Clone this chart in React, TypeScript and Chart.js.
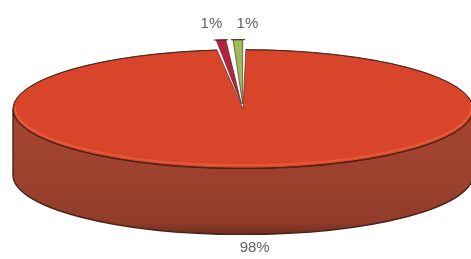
import { useEffect, useRef } from "react";
import { Chart, registerables } from "chart.js";

Chart.register(...registerables);

// ---- data ----
const categories = ["Slice A", "Slice B", "Slice C"];
const values = [1, 1, 98];
const valueLabels = ["1%", "1%", "98%"];
const topColors = ["#b3223f", "#9dbb58", "#d8452b"];
const sideColors = ["#7e1a2e", "#6e8a3a", "#9c412e"];
const explodeOffsets = [80, 80, 0];

// ---- 3D look ----
const TILT = 0.258;
const DEPTH = 66;
const FACE_X = 243;
const FACE_Y = 109;
const RADIUS = 230;
const ROTATION = -6.5; // degrees, start of first slice relative to 12 o'clock
const OUTLINE = "#4a2216";
const GAP_TOP = 16;
const GAP_BOTTOM = 14;
const MIN_SEP = 36;

function arcShift(el: any) {
  const off = (el.options.offset || 0) / 4;
  const circ = el.endAngle - el.startAngle;
  const fix = 1 - Math.sin(Math.min(Math.PI, circ || 0));
  const r = off + off * fix;
  const h = (el.startAngle + el.endAngle) / 2;
  return { dx: Math.cos(h) * r, dy: Math.sin(h) * r * TILT, h };
}

function shade(hex: string, f: number) {
  const n = parseInt(hex.slice(1), 16);
  const r = Math.min(255, Math.round(((n >> 16) & 255) * f));
  const g = Math.min(255, Math.round(((n >> 8) & 255) * f));
  const b = Math.min(255, Math.round((n & 255) * f));
  return `rgb(${r},${g},${b})`;
}

const pie3d = {
  id: "pie3d",
  beforeDatasetsDraw(chart: any) {
    const ctx = chart.ctx as CanvasRenderingContext2D;
    const els = chart.getDatasetMeta(0).data;
    if (!els.length) return;
    const cx = els[0].x;
    const cy = els[0].y;
    els.forEach((el: any, i: number) => {
      const { dx, dy } = arcShift(el);
      const a = el.outerRadius;
      const b = el.outerRadius * TILT;
      const ox = FACE_X + dx;
      const oy = FACE_Y + dy;
      for (let k = -1; k <= 1; k++) {
        const lo = Math.max(el.startAngle, 2 * Math.PI * k);
        const hi = Math.min(el.endAngle, 2 * Math.PI * k + Math.PI);
        if (hi <= lo) continue;
        ctx.save();
        ctx.beginPath();
        ctx.ellipse(ox, oy, a, b, 0, lo, hi);
        ctx.ellipse(ox, oy + DEPTH, a, b, 0, hi, lo, true);
        ctx.closePath();
        const g = ctx.createLinearGradient(0, oy, 0, oy + b + DEPTH);
        const base = sideColors[i];
        g.addColorStop(0, shade(base, 1.06));
        g.addColorStop(0.55, shade(base, 1.0));
        g.addColorStop(0.9, shade(base, 0.93));
        g.addColorStop(1, shade(base, 0.72));
        ctx.fillStyle = g;
        ctx.fill();
        ctx.lineWidth = 1.4;
        ctx.strokeStyle = OUTLINE;
        ctx.stroke();
        ctx.restore();
      }
    });
    ctx.save();
    ctx.translate(FACE_X, FACE_Y);
    ctx.scale(1, TILT);
    ctx.translate(-cx, -cy);
  },
  afterDatasetsDraw(chart: any) {
    const ctx = chart.ctx as CanvasRenderingContext2D;
    const els = chart.getDatasetMeta(0).data;
    if (!els.length) return;
    ctx.restore();
    // outer edges of the top faces, with a faint light rim on the front
    els.forEach((el: any) => {
      const { dx, dy } = arcShift(el);
      const a = el.outerRadius;
      const b = a * TILT;
      ctx.save();
      const lo = Math.max(el.startAngle, 0);
      const hi = Math.min(el.endAngle, Math.PI);
      if (hi > lo) {
        ctx.beginPath();
        ctx.ellipse(FACE_X + dx, FACE_Y + dy - 1.5, a - 2, b - 1.5, 0, lo, hi);
        ctx.lineWidth = 2;
        ctx.strokeStyle = "rgba(238,110,70,0.55)";
        ctx.stroke();
      }
      ctx.beginPath();
      ctx.ellipse(FACE_X + dx, FACE_Y + dy, a, b, 0, el.startAngle, el.endAngle);
      ctx.lineWidth = 1;
      ctx.strokeStyle = OUTLINE;
      ctx.stroke();
      ctx.restore();
    });
    // labels
    const pts = els.map((el: any, i: number) => {
      const { dx, dy, h } = arcShift(el);
      const a = el.outerRadius;
      const b = a * TILT;
      const ex = FACE_X + dx + a * Math.cos(h);
      const ey = FACE_Y + dy + b * Math.sin(h);
      const lower = Math.sin(h) > 0;
      return {
        x: ex,
        y: lower ? ey + DEPTH + GAP_BOTTOM : ey - GAP_TOP,
        lower,
        text: valueLabels[i],
      };
    });
    // spread labels sharing a row
    for (const row of [true, false]) {
      const grp = pts.filter((p: any) => p.lower === row).sort((p: any, q: any) => p.x - q.x);
      if (grp.length > 1) {
        let ok = true;
        for (let j = 1; j < grp.length; j++) if (grp[j].x - grp[j - 1].x < MIN_SEP) ok = false;
        if (!ok) {
          const mean = grp.reduce((s: number, p: any) => s + p.x, 0) / grp.length;
          grp.forEach((p: any, j: number) => {
            p.x = mean + (j - (grp.length - 1) / 2) * MIN_SEP;
          });
        }
      }
    }
    ctx.save();
    ctx.font = "15px 'Liberation Sans', Arial, sans-serif";
    ctx.fillStyle = "#5f5f5f";
    ctx.textAlign = "center";
    ctx.textBaseline = "middle";
    pts.forEach((p: any) => ctx.fillText(p.text, p.x, p.y));
    ctx.restore();
  },
};

export default function App() {
  const ref = useRef<HTMLCanvasElement | null>(null);
  useEffect(() => {
    if (!ref.current) return;
    const chart = new Chart(ref.current, {
      type: "pie",
      data: {
        labels: categories,
        datasets: [
          {
            data: values,
            backgroundColor: topColors,
            borderColor: OUTLINE,
            borderWidth: 1,
            offset: explodeOffsets,
            clip: false as any,
          } as any,
        ],
      },
      options: {
        responsive: false,
        animation: false,
        devicePixelRatio: 1,
        rotation: ROTATION,
        radius: RADIUS,
        events: [],
        layout: { padding: 0 },
        plugins: {
          legend: { display: false },
          tooltip: { enabled: false },
        },
      } as any,
      plugins: [pie3d],
    });
    return () => chart.destroy();
  }, []);
  return (
    <div style={{ position: "fixed", left: 0, top: 0, width: 471, height: 259, background: "#fff" }}>
      <canvas ref={ref} width={471} height={259} />
    </div>
  );
}
